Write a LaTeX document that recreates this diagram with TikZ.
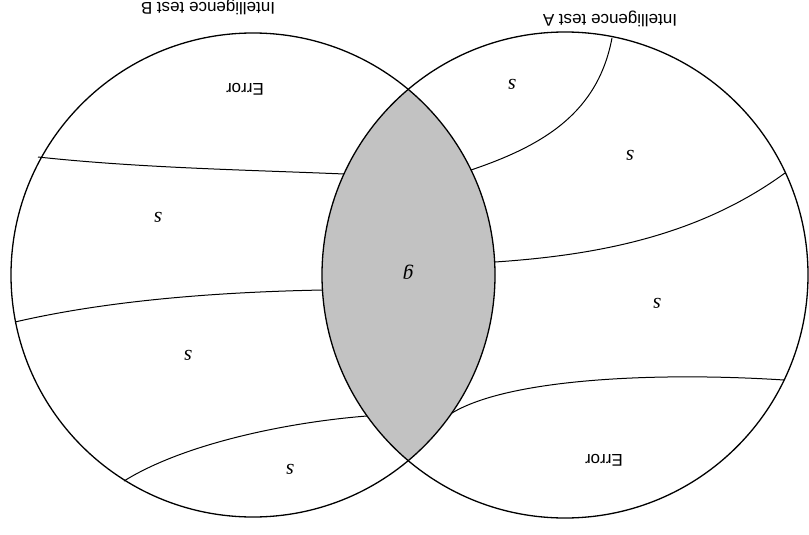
\documentclass[tikz,border=0pt]{standalone}
\usepackage{fontspec}
\setmainfont{Liberation Serif}
\newfontfamily\labelfont{Liberation Sans}
\begin{document}
\begin{tikzpicture}[x=1pt,y=-1pt,
  ring/.style={line width=1.3pt},
  part/.style={line width=1.0pt},
  lbl/.style={font=\labelfont\fontsize{17}{18}\selectfont,rotate=180,inner sep=0pt},
  fac/.style={font=\fontsize{21}{22}\selectfont\itshape,rotate=180,inner sep=0pt}]
\useasboundingbox (0,0) rectangle (809,535);
\coordinate (L) at (253,275);
\coordinate (R) at (565,275);
% shaded overlap
\begin{scope}
  \clip (L) circle (242);
  \fill[black!24] (R) circle (243);
\end{scope}
\draw[ring] (L) circle (242);
\draw[ring] (R) circle (243);
% partition lines, left circle
\coordinate (a1) at (38,157);  \coordinate (a2) at (344,174);
\coordinate (b1) at (15,322);  \coordinate (b2) at (323,290);
\coordinate (c1) at (124,481); \coordinate (c2) at (367,416);
\draw[part] (a1) .. controls (140,168) and (250,170) .. (a2);
\draw[part] (b1) .. controls (110,300) and (220,292) .. (b2);
\draw[part] (c1) .. controls (185,443) and (290,422) .. (c2);
% partition lines, right circle
\coordinate (d1) at (612,38);  \coordinate (d2) at (471,170);
\coordinate (e1) at (495,262); \coordinate (e2) at (785,173);
\coordinate (f1) at (452,413); \coordinate (f2) at (784,380);
\draw[part] (d1) .. controls (598,112) and (545,145) .. (d2);
\draw[part] (e1) .. controls (600,255) and (700,235) .. (e2);
\draw[part] (f1) .. controls (510,378) and (660,372) .. (f2);
% labels
\node[lbl] (tB) at (208,7) {Intelligence test B};
\node[lbl] (tA) at (610,19) {Intelligence test A};
\node[lbl] (eB) at (245,89) {Error};
\node[lbl] (eA) at (604,460) {Error};
\node[fac] (s1) at (158,217) {s};
\node[fac] (s2) at (188,355) {s};
\node[fac] (s3) at (290,469) {s};
\node[fac] (s4) at (512,84) {s};
\node[fac] (s5) at (630,155) {s};
\node[fac] (s6) at (657,303) {s};
\node[fac] (g) at (408,272) {g};
\end{tikzpicture}
\end{document}
